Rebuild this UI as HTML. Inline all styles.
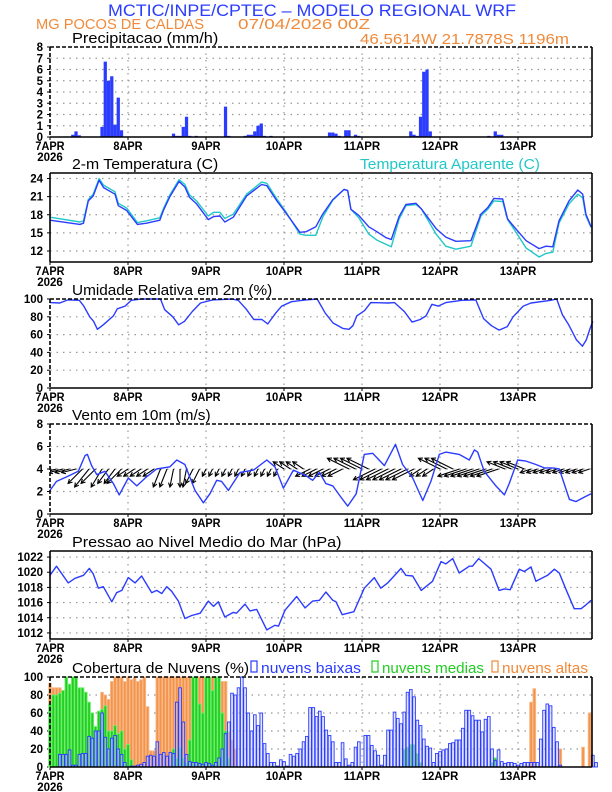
<!DOCTYPE html>
<html><head><meta charset="utf-8">
<style>
html,body{margin:0;padding:0;background:#fff;}
svg{display:block;font-family:"Liberation Sans",sans-serif;}
</style></head>
<body>
<svg id="chart" width="612" height="792" viewBox="0 0 612 792" xmlns="http://www.w3.org/2000/svg">
<defs><clipPath id="windclip"><rect x="50" y="420" width="542" height="95"/></clipPath></defs>
<rect x="0" y="0" width="612" height="792" fill="#fff"/>
<text x="108" y="16" font-size="17" fill="#2b3cff" textLength="408" lengthAdjust="spacingAndGlyphs">MCTIC/INPE/CPTEC – MODELO REGIONAL WRF</text>
<text x="36" y="29" font-size="15" fill="#f08a3a" textLength="168" lengthAdjust="spacingAndGlyphs">MG POCOS DE CALDAS</text>
<text x="238" y="29" font-size="15" fill="#f08a3a" textLength="132" lengthAdjust="spacingAndGlyphs">07/04/2026 00Z</text>
<text x="360" y="44" font-size="15" fill="#f08a3a" textLength="209" lengthAdjust="spacingAndGlyphs">46.5614W 21.7878S 1196m</text>
</svg>
<script>
// ---------- data ----------
const dayLabels = ["7APR","8APR","9APR","10APR","11APR","12APR","13APR"];
const precipHours = [5,7,8,9,16,17,18,19,20,21,22,38,39,40,41,42,43,45,54,55,60,61,62,63,64,65,66,68,86,87,88,89,91,92,94,95,111,112,113,114,115,116,117,135,137,138,139];
const precipVals  = [0.05,0.2,0.5,0.15,0.9,6.7,5.0,5.4,1.1,3.5,0.6,0.3,0.1,0.1,0.9,1.8,0.1,0.1,2.7,0.1,0.1,0.2,0.2,0.5,1.0,1.2,0.1,0.1,0.4,0.4,0.3,0.1,0.6,0.6,0.2,0.1,0.5,0.2,0.1,1.8,5.8,6.0,0.5,0.1,0.5,0.2,0.2];
const precipTicks = [0,1,2,3,4,5,6,7,8];

const tempHours = [0,9.2,10.3,11.8,13.3,15.1,16.5,20,21,23.6,26.9,29.7,33.8,34.9,36.9,39.7,41.5,42.9,45.1,48.7,50.3,52.3,53.8,56.4,60.5,65.1,66.7,69.8,72.3,76.9,78.8,81.8,83.9,87,90.5,91.6,92.6,95,98.1,100.6,103.4,105,107.4,109.5,112.6,114.2,118.8,121.8,124.9,129.5,132.6,134.7,136.6,139.3,140.8,142.8,146.5,150.5,152.6,154.7,156.6,159.7,162.4,163.9,164.9,166.5];
const tempVals = [17.1,16.4,16.6,20.3,21.1,23.7,22.5,21.4,19.5,18.7,16.4,16.6,17.1,18.7,21.0,23.5,22.6,20.9,19.8,17.2,17.7,17.8,16.8,17.6,21.1,23.0,22.8,20.3,18.5,15.1,15.2,16.0,18.1,20.5,22.2,22.0,18.9,17.9,16.0,15.2,14.2,13.9,17.7,19.7,19.9,19.0,15.7,14.3,13.6,13.7,18.1,19.2,20.7,20.6,17.3,16.0,13.7,12.4,12.8,12.7,17.0,20.3,22.1,21.4,18.1,16.0];
const apparentVals = [17.6,16.8,17.0,20.5,21.4,24.0,22.9,21.8,19.9,19.1,16.7,17.0,17.5,19.0,21.3,23.8,23.0,21.3,20.3,17.8,18.4,18.4,17.4,18.1,21.4,23.4,23.2,20.6,18.7,14.8,14.6,14.6,17.6,20.4,22.2,22.0,18.9,17.5,14.8,13.8,13.1,12.7,17.3,19.5,19.7,19.0,14.8,12.8,12.3,12.8,17.8,18.9,20.3,20.2,17.2,15.6,12.5,11.0,11.6,11.8,16.6,19.8,21.4,20.8,17.8,15.9];
const tempTicks = [12,15,18,21,24];

const rhHours = [0,3,5.5,9,10.4,12.2,13.4,14.6,16.4,19.5,20.7,23.1,25,28,34,35.3,37.8,39.6,41.4,43.8,46.3,50,56,57.9,60.3,62.7,65.2,67,69.4,71.3,74.3,78.6,82.2,84.7,87.1,90.1,92,93.2,94.4,96.8,98.7,104.1,106,109,111.4,113.9,115.7,117.5,119.4,121.8,126.7,131,133.4,135.8,138.2,140.7,142.5,145.6,148,154.1,155.9,157.7,159.6,162,163.8,165,166.2,167];
const rhVals = [96,95.5,99,98.5,92,80,75,66,71,81,89,92,98.5,100,100,88,80,71,75,86,95.5,99,100,98.5,89,77,77,72,84,92,97,99,100,84,73,67,66,70,81,87,96,95.5,96,86,74,77,81,94,92,96,98.5,99,78,70,65,69,80,92,95.5,98.5,100,82,71,54,47,54,67,75];
const rhTicks = [0,20,40,60,80,100];

const windHours = [0,2,5.1,8.7,10.8,11.5,12.8,14.4,16.9,19.5,21.3,24.1,26.7,29.7,32.8,36.9,39,41.5,44.6,47.2,49.2,51.3,52.8,54.9,58.5,62.6,66.7,69.2,71.8,74.9,78.8,80.8,82.9,84.9,87,89.5,91.6,94.2,96.7,99.3,102.9,106.3,108.5,111.6,114.7,117.2,119.8,121.8,125.9,129,130.6,131.6,133.6,137.2,139.8,141.3,143.9,146.5,149.5,152.1,154.7,156.7,159.8,161.8,164.4,166.5];
const windSpeed = [2.1,2.9,3.3,3.8,5.2,5.3,4.3,3.5,3.8,2.7,1.7,3.2,2.5,3.3,4.0,4.2,4.8,4.4,2.1,1.0,1.8,3.0,2.9,2.1,3.7,3.9,4.8,4.2,2.3,3.9,3.4,3.0,3.7,2.7,2.5,1.5,0.7,1.8,5.3,5.4,4.3,6.2,4.4,3.2,1.2,2.9,5.3,5.5,5.3,4.8,5.7,5.5,3.8,2.5,1.7,2.7,4.8,4.7,4.4,4.1,4.1,4.0,1.3,1.1,1.5,1.8];
// wind vector components every 2 hours
const windU = [-4,-4,-4,-4,-4,-4,-4,-4,-3,-3,-3,-4,-3,-3,-3,-3,-3,-2,-2,-1,0,-1,-2,-2,-1,-1,-1,-1,-1,-1,-1,-1,-1,-1,-1,-1,-3,-3,-3,-3,-4,-4,-4,-4,-4,-4,-6,-6,-6,-6,-6,-6,-6,-6,-6,-6,-6,-3,-3,-3,-6,-6,-6,-6,-6,-6,-6,-6,-6,-6,-5,-5,-5,-5,-3,-3,-3,-3,-3,-3,-3,-3,-3,-3];
const windV = [-1,-1,-1,-1,-1,-4,-5,-4,-5,-4,-4,-4,-2,-2,-2,-2,-2,-5,-5,-5,-5,-5,-4,-4,-2,-2,-2,-2,-2,-2,-2,-2,-2,-2,-2,-2,2,2,2,2,-2,-2,-2,-2,-2,-2,3,3,3,3,-3,-3,-3,-3,-3,-3,-3,-2,-2,-2,3,3,3,-2,-2,-2,-2,-2,-2,-2,2,2,2,2,-1,-1,-1,-1,-1,-1,-1,-1,-1,-1];
const windTicks = [0,2,4,6,8];

const presHours = [0,2,5.6,7.7,10.3,12.1,13.3,14.9,16.4,19,20.5,22.1,24.1,26.2,28.2,31.3,32.8,34.4,35.9,37.4,39.5,41.5,43.6,46.2,48.7,50.3,51.8,53.8,56.4,57.4,60,61.5,63.6,66.7,69.2,70.3,72.3,75.9,78.5,80.8,82.9,84.9,87,88,89.9,93.5,96.7,99.8,101.8,103.9,105.4,108,109.5,111.6,114.2,117.7,120.3,121.8,123.9,125.9,129,130,131.9,135.7,138.2,139.8,141.6,144.4,145.9,148,149.5,153.1,155.2,156.7,158.8,161.3,163.4,164.9,166.5];
const presVals = [1019.6,1020.8,1018.6,1019.2,1019.6,1020.5,1019.8,1017.9,1018.1,1016.1,1017.3,1017.6,1019.3,1018.6,1019.5,1017.3,1017.6,1017.2,1018.1,1017.5,1016.2,1013.9,1014.3,1014.6,1016.2,1015.5,1016.1,1014.1,1014.7,1014.6,1015.8,1014.9,1015.1,1012.4,1013.0,1012.9,1015.0,1016.8,1015.3,1016.2,1016.3,1017.4,1016.3,1016.1,1014.4,1014.8,1017.9,1019.3,1017.9,1018.6,1019.3,1020.5,1019.6,1019.5,1017.6,1018.8,1021.4,1021.1,1021.8,1019.9,1020.8,1020.8,1021.8,1020.4,1017.6,1017.8,1017.7,1020.4,1020.1,1020.7,1018.8,1019.6,1020.4,1019.9,1017.7,1015.2,1015.2,1015.7,1016.3];
const presTicks = [1012,1014,1016,1018,1020,1022];

const cloudLow = [0,0,0,14,14,14,19,2,2,14,15,15,34,32,40,40,60,33,20,32,35,20,14,5,0,1,1,2,3,5,12,13,12,28,14,16,12,16,15,72,88,50,14,6,5,5,4,3,5,4,2,5,10,20,37,50,82,80,88,100,88,60,40,58,46,60,26,15,5,5,1,8,6,1,14,12,15,20,28,34,66,66,56,62,56,41,35,28,5,5,27,9,2,5,22,28,0,35,35,24,18,13,2,13,41,41,61,54,48,61,83,86,78,52,46,31,23,21,5,15,17,19,20,26,27,30,30,43,63,63,57,52,52,39,53,56,20,7,19,6,4,5,5,4,2,4,5,5,5,5,5,31,63,70,68,44,28,2,0,0,0,0,0,0,0,0,0,13,5];
const cloudMid = [70,80,80,82,85,100,92,100,100,88,88,83,72,60,45,62,64,68,40,40,46,37,40,20,25,8,0,0,0,0,0,0,0,0,0,0,0,0,20,10,22,10,5,30,100,100,70,60,100,100,85,100,100,60,40,10,0,0,0,0,0,0,0,0,0,0,0,0,0,0,0,0,0,0,0,0,0,0,0,0,0,0,0,0,0,0,0,0,0,0,0,0,0,0,0,0,0,0,0,0,0,0,0,0,0,0,0,0,0,20,22,25,25,15,5,0,0,0,0,0,0,0,0,0,0,0,0,0,0,0,0,0,0,0,0,0,5,10,0,0,0,0,0,0,0,0,0,0,0,0,0,0,0,0,0,0,0,0,0,0,0,0,0,0,0,0,0];
const cloudHigh = [93,88,88,88,0,0,0,0,0,0,0,0,0,0,0,0,83,80,75,95,100,100,100,95,100,97,100,95,97,100,67,18,18,100,100,100,100,100,100,100,100,100,100,100,100,100,100,100,100,100,100,100,95,95,95,39,30,20,0,0,0,0,0,0,0,0,0,0,0,0,0,0,0,0,0,0,0,0,0,0,0,0,0,0,0,0,0,0,0,0,0,0,0,0,0,0,0,0,0,0,0,0,0,0,0,0,0,0,0,0,0,0,0,0,0,0,0,0,0,0,0,0,0,0,0,0,0,0,0,0,0,0,0,0,0,0,0,0,0,0,0,0,0,0,0,0,0,0,72,87,0,0,0,0,0,0,0,20,0,0,0,0,0,0,22,0,60];
const cloudTicks = [0,20,40,60,80,100];

// ---------- drawing ----------
const NS = "http://www.w3.org/2000/svg";
const svg = document.getElementById("chart");
const X0 = 50, PXH = 3.25, XR = 592;
function xh(h){ return X0 + PXH*h; }
function el(tag, attrs, parent){
  const e = document.createElementNS(NS, tag);
  for (const k in attrs) e.setAttribute(k, attrs[k]);
  (parent||svg).appendChild(e);
  return e;
}
function scale(top, bottom, min, max){ return v => bottom - (v-min)/(max-min)*(bottom-top); }

function panel(name, top, bottom, min, max, ticks, dashed, title){
  const g = el("g", {});
  
  
  const y = scale(top, bottom, min, max);
  ticks.forEach(t => {
    const yy = y(t);
    if (yy > top + 1 && yy < bottom - 1) {
      const gl = el("line", {x1:X0, x2:XR, y1:yy, y2:yy, stroke:"#999", "stroke-width":1.2, "stroke-dasharray":"1.5,5"}, g);
      
      
    }
    const tl = el("text", {x:43, y:yy+4, "font-size":11.5, "font-weight":"bold", "text-anchor":"end", fill:"#000"}, g);
    tl.textContent = t;
    
    
    el("line", {x1:X0-3, x2:X0, y1:yy, y2:yy, stroke:"#000", "stroke-width":1}, g);
  });
  for (let d = 1; d < 7; d++) {
    const xx = xh(24*d);
    const vl = el("line", {x1:xx, x2:xx, y1:top, y2:bottom, stroke:"#999", "stroke-width":1.2, "stroke-dasharray":"1.5,5"}, g);
    
    
  }
  dayLabels.forEach((lab, i) => {
    const xx = xh(24*i);
    const t = el("text", {x:xx, y:bottom+13, "font-size":11.5, "font-weight":"bold", "text-anchor":"middle", fill:"#000", textLength: lab.length*7.3, lengthAdjust:"spacingAndGlyphs"}, g);
    t.textContent = lab;
    
    
    el("line", {x1:xx, x2:xx, y1:bottom, y2:bottom+3, stroke:"#000", "stroke-width":1}, g);
  });
  const yr = el("text", {x:X0, y:bottom+24, "font-size":11.5, "font-weight":"bold", "text-anchor":"middle", fill:"#000"}, g);
  yr.textContent = "2026";
  
  
  const tt = el("text", {x:72, y:top-4, "font-size":15, fill:"#000", textLength: title.length*7.7, lengthAdjust:"spacingAndGlyphs"}, g);
  tt.textContent = title;
  
  
  return {g, y, top, bottom, dashed};
}
function frame(p){
  const g = p.g;
  const da = p.dashed ? "4,2" : "none";
  el("line", {x1:X0, x2:XR, y1:p.bottom, y2:p.bottom, stroke:"#000", "stroke-width":1.6}, g);
  el("line", {x1:XR, x2:XR, y1:p.top, y2:p.bottom, stroke:"#000", "stroke-width":1.6}, g);
  el("line", {x1:X0, x2:XR, y1:p.top, y2:p.top, stroke:"#000", "stroke-width":1.6, "stroke-dasharray":da}, g);
  el("line", {x1:X0, x2:X0, y1:p.top, y2:p.bottom, stroke:"#000", "stroke-width":1.6, "stroke-dasharray":da}, g);
}
function linePath(p, hours, vals, color, name, w){
  const d = hours.map((h,i) => (i?"L":"M") + xh(h).toFixed(1) + "," + p.y(vals[i]).toFixed(1)).join("");
  const path = el("path", {d:d, fill:"none", stroke:color, "stroke-width":w||1.4, "stroke-linejoin":"round"}, p.g);
  
  
}

// Panel 1: precipitation
const p1 = panel("precipitation", 47, 137, 0, 8, precipTicks, true, "Precipitacao (mm/h)");
precipHours.forEach((h, i) => {
  const yv = p1.y(precipVals[i]);
  const b = el("rect", {x:xh(h)-1.6, y:yv, width:3.25, height:p1.bottom-yv, fill:"#2b3cff"}, p1.g);
  
  
});
frame(p1);

// Panel 2: temperature
const p2 = panel("temperature", 173, 262, 10.18, 24.91, tempTicks, false, "2-m Temperatura (C)");
linePath(p2, tempHours, apparentVals, "#22c8c8", "apparent-temperature-line");
linePath(p2, tempHours, tempVals, "#2b3cff", "temperature-line");
frame(p2);
const lt = el("text", {x:360, y:169, "font-size":15, fill:"#22c8c8", textLength:180, lengthAdjust:"spacingAndGlyphs"});
lt.textContent = "Temperatura Aparente (C)";



// Panel 3: RH
const p3 = panel("humidity", 299, 388, 0, 100, rhTicks, true, "Umidade Relativa em 2m (%)");
linePath(p3, rhHours, rhVals, "#2b3cff", "humidity-line");
frame(p3);

// Panel 4: wind
const p4 = panel("wind", 424, 514, 0, 8, windTicks, true, "Vento em 10m (m/s)");
const arrowGroup = el("g", {"clip-path":"url(#windclip)"}, p4.g);


const baseY = p4.y(4);
windU.forEach((u, i) => {
  const x1 = xh(2*i), y1 = baseY;
  const x2 = x1 + u*3.6, y2 = y1 - windV[i]*3.6;
  const len = Math.hypot(x2-x1, y2-y1) || 1;
  const ux = (x2-x1)/len, uy = (y2-y1)/len;
  const hx1 = x2 - ux*4 - uy*2.2, hy1 = y2 - uy*4 + ux*2.2;
  const hx2 = x2 - ux*4 + uy*2.2, hy2 = y2 - uy*4 - ux*2.2;
  const a = el("path", {d:`M${x1},${y1}L${x2},${y2}M${hx1},${hy1}L${x2},${y2}L${hx2},${hy2}`, stroke:"#000", "stroke-width":1.1, fill:"none"}, arrowGroup);
  
  
});
linePath(p4, windHours, windSpeed, "#2b3cff", "wind-speed-line");
frame(p4);

// Panel 5: pressure
const p5 = panel("pressure", 551, 639, 1011.2, 1022.8, presTicks, false, "Pressao ao Nivel Medio do Mar (hPa)");
linePath(p5, presHours, presVals, "#2b3cff", "pressure-line");
frame(p5);

// Panel 6: clouds
const p6 = panel("cloud", 677, 767, 0, 100, cloudTicks, true, "Cobertura de Nuvens (%)");
function cloudBars(vals, fill, stroke, name, op){
  vals.forEach((v, h) => {
    if (v <= 0) return;
    const yv = p6.y(v);
    const b = el("rect", {x:xh(h)-1.3, y:yv, width:2.7, height:p6.bottom-yv, fill:fill, "fill-opacity":op, stroke:stroke, "stroke-width":0.9}, p6.g);
    
    
  });
}
cloudBars(cloudHigh, "#f4944a", "#f8b98a", "high-cloud-bar", 1);
cloudBars(cloudMid, "#22cc22", "#6ef06e", "mid-cloud-bar", 1);
cloudBars(cloudLow, "#c8ccff", "#2b3cff", "low-cloud-bar", 0.55);
frame(p6);

// cloud legend
const legend = [
  {x:251, label:"nuvens baixas", color:"#2b3cff", w:100, name:"legend-low-clouds"},
  {x:372, label:"nuvens medias", color:"#22cc22", w:102, name:"legend-mid-clouds"},
  {x:492, label:"nuvens altas", color:"#f08a3a", w:86, name:"legend-high-clouds"}
];
legend.forEach(L => {
  const bx = el("rect", {x:L.x, y:661, width:6, height:11, fill:"none", stroke:L.color, "stroke-width":1.2});
  
  
  const t = el("text", {x:L.x+10, y:673, "font-size":15, fill:L.color, textLength:L.w, lengthAdjust:"spacingAndGlyphs"});
  t.textContent = L.label;
  
  
});
</script>
</body></html>
